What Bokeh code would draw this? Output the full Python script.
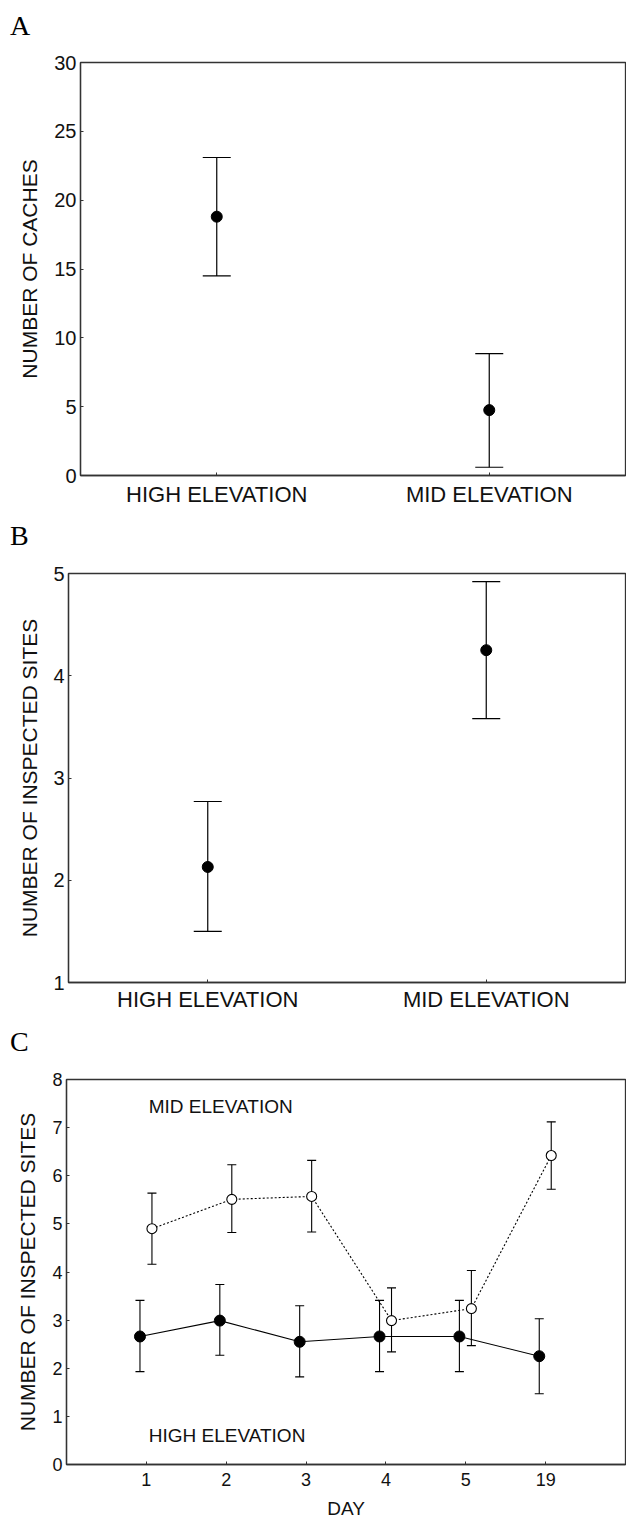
from bokeh.plotting import figure
from bokeh.models import (ColumnDataSource, Whisker, TeeHead, FactorRange, Range1d,
                          Label, FixedTicker, Div)
from bokeh.embed import file_html
from bokeh.resources import INLINE
from bokeh.transform import dodge

# ---------------- data ----------------
elev = ["HIGH ELEVATION", "MID ELEVATION"]

caches_mean = [18.8, 4.75]
caches_low = [14.5, 0.6]
caches_high = [23.1, 8.85]

sites_mean = [2.13, 4.25]
sites_low = [1.50, 3.58]
sites_high = [2.77, 4.92]

days = ["1", "2", "3", "4", "5", "19"]
high_mean = [2.66, 2.99, 2.55, 2.66, 2.66, 2.25]
high_low = [1.93, 2.27, 1.82, 1.93, 1.93, 1.47]
high_up = [3.41, 3.74, 3.30, 3.41, 3.41, 3.03]
mid_mean = [4.90, 5.51, 5.57, 2.99, 3.24, 6.42]
mid_low = [4.16, 4.82, 4.83, 2.34, 2.47, 5.72]
mid_up = [5.64, 6.23, 6.32, 3.67, 4.03, 7.12]

SANS = "Liberation Sans"
SERIF = "Liberation Serif"


def letter_div(text, height, pad_top, pad_left):
    html = ('<div style="margin:0;padding:%dpx 0 0 %dpx;font-family:\'Liberation Serif\';'
            'font-size:28px;line-height:28px;color:black;">%s</div>' % (pad_top, pad_left, text))
    return Div(text=html, width=626, height=height, margin=(0, 0, 0, 0))


def base_fig(height, x_range, y_range, left, top, bottom):
    p = figure(width=626, height=height, x_range=x_range, y_range=y_range,
               output_backend="svg", toolbar_location=None,
               min_border_left=left, min_border_right=1,
               min_border_top=top, min_border_bottom=bottom, margin=(0, 0, 0, 0))
    p.grid.visible = False
    p.outline_line_color = "#333333"
    p.outline_line_width = 1.3
    p.background_fill_color = "white"
    p.border_fill_color = "white"
    return p


def style_axes(p, tick_size, label_size, label_standoff):
    for ax in p.xaxis + p.yaxis:
        ax.axis_line_color = "#333333"
        ax.axis_line_width = 1.3
        ax.major_tick_in = 3
        ax.major_tick_out = 0
        ax.minor_tick_line_color = None
        ax.major_tick_line_color = "#333333"
        ax.major_label_text_font = SANS
        ax.major_label_text_color = "#111111"
        ax.axis_label_text_font = SANS
        ax.axis_label_text_font_style = "normal"
        ax.axis_label_text_color = "#111111"
        ax.axis_label_text_font_size = label_size
    p.yaxis.major_label_text_font_size = tick_size
    p.yaxis.major_label_standoff = 4
    p.yaxis.axis_label_standoff = label_standoff


# ---------------- Panel A ----------------
div_a = letter_div("A", 40, 12, 10)
pa = base_fig(480, FactorRange(factors=elev), Range1d(0, 30), 80, 22, 45)
src_a = ColumnDataSource(dict(x=elev, mean=caches_mean, lower=caches_low, upper=caches_high))
pa.add_layout(Whisker(source=src_a, base="x", lower="lower", upper="upper",
                      line_color="black", line_width=1.2,
                      upper_head=TeeHead(size=28, line_color="black", line_width=1.2),
                      lower_head=TeeHead(size=28, line_color="black", line_width=1.2)))
pa.scatter("x", "mean", source=src_a, size=11, color="black")
pa.yaxis.ticker = FixedTicker(ticks=[0, 5, 10, 15, 20, 25, 30])
pa.yaxis.axis_label = "NUMBER OF CACHES"
style_axes(pa, "20px", "21px", 10)
pa.xaxis.major_label_text_font_size = "22px"
pa.xaxis.major_label_standoff = 6

# ---------------- Panel B ----------------
div_b = letter_div("B", 30, 2, 10)
pb = base_fig(465, FactorRange(factors=elev), Range1d(1, 5), 68, 23, 33)
src_b = ColumnDataSource(dict(x=elev, mean=sites_mean, lower=sites_low, upper=sites_high))
pb.add_layout(Whisker(source=src_b, base="x", lower="lower", upper="upper",
                      line_color="black", line_width=1.2,
                      upper_head=TeeHead(size=28, line_color="black", line_width=1.2),
                      lower_head=TeeHead(size=28, line_color="black", line_width=1.2)))
pb.scatter("x", "mean", source=src_b, size=11, color="black")
pb.yaxis.ticker = FixedTicker(ticks=[1, 2, 3, 4, 5])
pb.yaxis.axis_label = "NUMBER OF INSPECTED SITES"
style_axes(pb, "20px", "21px", 9)
pb.xaxis.major_label_text_font_size = "22px"
pb.xaxis.major_label_standoff = 4

# ---------------- Panel C ----------------
div_c = letter_div("C", 42, 13, 10)
pos = [i + 1 for i in range(len(days))]
pc = base_fig(464, Range1d(0, len(days) + 1), Range1d(0, 8), 66, 22, 57)
src_h = ColumnDataSource(dict(x=pos, mean=high_mean, lower=high_low, upper=high_up))
src_m = ColumnDataSource(dict(x=pos, mean=mid_mean, lower=mid_low, upper=mid_up))

for src, off in ((src_h, -0.08), (src_m, 0.07)):
    pc.add_layout(Whisker(source=src, base=dodge("x", off), lower="lower", upper="upper",
                          line_color="black", line_width=1.1,
                          upper_head=TeeHead(size=9, line_color="black", line_width=1.1),
                          lower_head=TeeHead(size=9, line_color="black", line_width=1.1)))

pc.line(dodge("x", 0.07), "mean", source=src_m, line_color="black", line_width=1.1,
        line_dash="2 2")
pc.line(dodge("x", -0.08), "mean", source=src_h, line_color="black", line_width=1.1)
pc.scatter(dodge("x", 0.07), "mean", source=src_m, size=10, fill_color="white",
           line_color="black", line_width=1.1)
pc.scatter(dodge("x", -0.08), "mean", source=src_h, size=11, color="black")

pc.xaxis.ticker = FixedTicker(ticks=pos)
pc.xaxis.major_label_overrides = {p_: d for p_, d in zip(pos, days)}
pc.yaxis.ticker = FixedTicker(ticks=list(range(0, 9)))
pc.yaxis.axis_label = "NUMBER OF INSPECTED SITES"
pc.xaxis.axis_label = "DAY"
style_axes(pc, "18px", "21px", 10)
pc.xaxis.major_label_text_font_size = "18px"
pc.xaxis.axis_label_text_font_size = "19px"
pc.xaxis.major_label_standoff = 8
pc.xaxis.axis_label_standoff = 9

pc.add_layout(Label(x=1.03, y=7.43, text="MID ELEVATION", text_font=SANS,
                    text_font_size="19px", text_baseline="middle", text_color="#111111"))
pc.add_layout(Label(x=1.03, y=0.6, text="HIGH ELEVATION", text_font=SANS,
                    text_font_size="19px", text_baseline="middle", text_color="#111111"))

open("out.html", "w").write(file_html([div_a, pa, div_b, pb, div_c, pc], INLINE))
